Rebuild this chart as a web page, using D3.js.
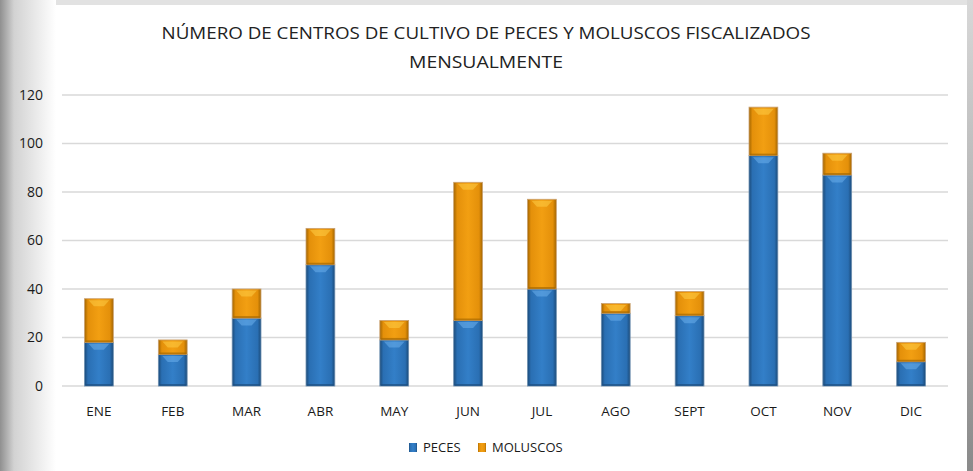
<!DOCTYPE html>
<html>
<head>
<meta charset="utf-8">
<script src="https://cdn.jsdelivr.net/npm/d3@7"></script>
<style>
  body { margin: 0; background: #fff; }
  svg { display: block; font-family: "Open Sans", "Noto Sans", sans-serif; }
</style>
</head>
<body>
<svg id="chart" width="973" height="471"></svg>
<script>
// data
const months = ["ENE","FEB","MAR","ABR","MAY","JUN","JUL","AGO","SEPT","OCT","NOV","DIC"];
const peces = [18, 13, 28, 50, 19, 27, 40, 30, 29, 95, 87, 10];
const moluscos = [18, 6, 12, 15, 8, 57, 37, 4, 10, 20, 9, 8];
const yTicks = [0, 20, 40, 60, 80, 100, 120];
const seriesNames = ["PECES", "MOLUSCOS"];
const titleLines = ["NÚMERO DE CENTROS DE CULTIVO DE PECES Y MOLUSCOS FISCALIZADOS", "MENSUALMENTE"];

const W = 973, H = 471;
const margin = {left: 62, right: 25, top: 95, bottom: 85};
const svg = d3.select("#chart");

// frame look (grey border + fading left edge)
let defs = svg.append("defs");
let lg = defs.append("linearGradient").attr("id", "leftFade");
lg.append("stop").attr("offset", "0%").attr("stop-color", "#909090");
lg.append("stop").attr("offset", "25%").attr("stop-color", "#d2d2d2");
lg.append("stop").attr("offset", "100%").attr("stop-color", "#ffffff");
let rg = defs.append("linearGradient").attr("id", "rightEdge").attr("x1", 0).attr("y1", 0).attr("x2", 0).attr("y2", 1);
rg.append("stop").attr("offset", "0%").attr("stop-color", "#d8d8d8");
rg.append("stop").attr("offset", "100%").attr("stop-color", "#8a8a8a");

svg.append("rect").attr("width", W).attr("height", H).attr("fill", "#fff");
svg.append("rect").attr("x", 0).attr("y", 0).attr("width", W).attr("height", 5).attr("fill", "#e2e2e2");
svg.append("rect").attr("x", 0).attr("y", 0).attr("width", 56).attr("height", H).attr("fill", "url(#leftFade)");
svg.append("rect").attr("x", 967).attr("y", 0).attr("width", 6).attr("height", H).attr("fill", "url(#rightEdge)");

// bar gradients
function barGrad(id, edge, mid, light) {
  let g = defs.append("linearGradient").attr("id", id);
  g.append("stop").attr("offset", "0%").attr("stop-color", edge);
  g.append("stop").attr("offset", "12%").attr("stop-color", mid);
  g.append("stop").attr("offset", "50%").attr("stop-color", light);
  g.append("stop").attr("offset", "88%").attr("stop-color", mid);
  g.append("stop").attr("offset", "100%").attr("stop-color", edge);
}
barGrad("gPeces", "#1b4a78", "#2a6fb3", "#337fc8");
barGrad("gMol", "#a26500", "#e4900a", "#f29f12");
const fills = ["url(#gPeces)", "url(#gMol)"];
const hiCol = ["#6fb4f0", "#ffd24a"];

// title
svg.append("g").selectAll("text").data(titleLines).join("text")
  .attr("x", 486).attr("y", (d, i) => 39 + i * 29)
  .attr("text-anchor", "middle")
  .attr("font-size", 16.5)
  .attr("fill", "#222")
  .attr("textLength", (d, i) => i == 0 ? 649 : 154)
  .attr("lengthAdjust", "spacingAndGlyphs")
  .text(d => d);

const x = d3.scaleBand().domain(months).range([margin.left, W - margin.right]).paddingInner(0.61).paddingOuter(0.305);
const y = d3.scaleLinear().domain([0, 120]).range([386, margin.top]);

// gridlines
svg.append("g").selectAll("line").data(yTicks).join("line")
  .attr("x1", margin.left).attr("x2", W - margin.right)
  .attr("y1", d => y(d)).attr("y2", d => y(d))
  .attr("stroke", "#d9d9d9").attr("stroke-width", 1.3);

// y labels
let yAxis = svg.append("g").attr("transform", `translate(${margin.left},0)`)
  .call(d3.axisLeft(y).tickValues(yTicks).tickSize(0).tickPadding(19));
yAxis.select(".domain").remove();
yAxis.selectAll("text").attr("font-size", 14).attr("fill", "#1a1a1a").attr("font-family", "Open Sans, sans-serif");

// x labels
let xAxis = svg.append("g").attr("transform", "translate(0,386)")
  .call(d3.axisBottom(x).tickSize(0).tickPadding(20));
xAxis.select(".domain").remove();
xAxis.selectAll("text").attr("font-size", 13.5).attr("fill", "#1a1a1a").attr("font-family", "Open Sans, sans-serif");

// stacked bars
const rows = months.map((m, i) => ({month: m, PECES: peces[i], MOLUSCOS: moluscos[i]}));
const stack = d3.stack().keys(seriesNames)(rows);

stack.forEach((layer, k) => {
  let g = svg.append("g");
  g.selectAll("rect.bar").data(layer).join("rect")
    .attr("class", "bar")
    .attr("x", d => x(d.data.month))
    .attr("y", d => y(d[1]))
    .attr("width", x.bandwidth())
    .attr("height", d => y(d[0]) - y(d[1]))
    .attr("fill", fills[k])
    .attr("stroke", k == 0 ? "#6d8fb0" : "#c9a070")
    .attr("stroke-width", 0.8);
  // soft bevel highlight at the top of each segment
  g.selectAll("path.hi").data(layer).join("path")
    .attr("class", "hi")
    .attr("d", d => {
      let x0 = x(d.data.month) + 4, x1 = x(d.data.month) + x.bandwidth() - 4, t = y(d[1]) + 1.5;
      return `M${x0},${t}L${x1},${t}L${(x0 + x1) / 2 + 5},${t + 6}L${(x0 + x1) / 2 - 5},${t + 6}Z`;
    })
    .attr("fill", hiCol[k]).attr("opacity", 0.5);
  // dark bottom edge
  g.selectAll("rect.bot").data(layer).join("rect")
    .attr("class", "bot")
    .attr("x", d => x(d.data.month) + 1)
    .attr("y", d => y(d[0]) - 2)
    .attr("width", x.bandwidth() - 2)
    .attr("height", 2)
    .attr("fill", k == 0 ? "#1d4f80" : "#a86a00").attr("opacity", 0.7);
});

// legend
const legend = svg.append("g").attr("transform", "translate(409,441)");
const legX = [0, 69];
const legItems = legend.selectAll("g").data(seriesNames).join("g")
  .attr("transform", (d, i) => `translate(${legX[i]},0)`);
legItems.append("rect").attr("width", 8).attr("height", 9).attr("y", 2)
  .attr("fill", (d, i) => fills[i]);
legItems.append("text").attr("x", 14).attr("y", 11)
  .attr("font-size", 13).attr("fill", "#1a1a1a")
  .text(d => d);
</script>
</body>
</html>
